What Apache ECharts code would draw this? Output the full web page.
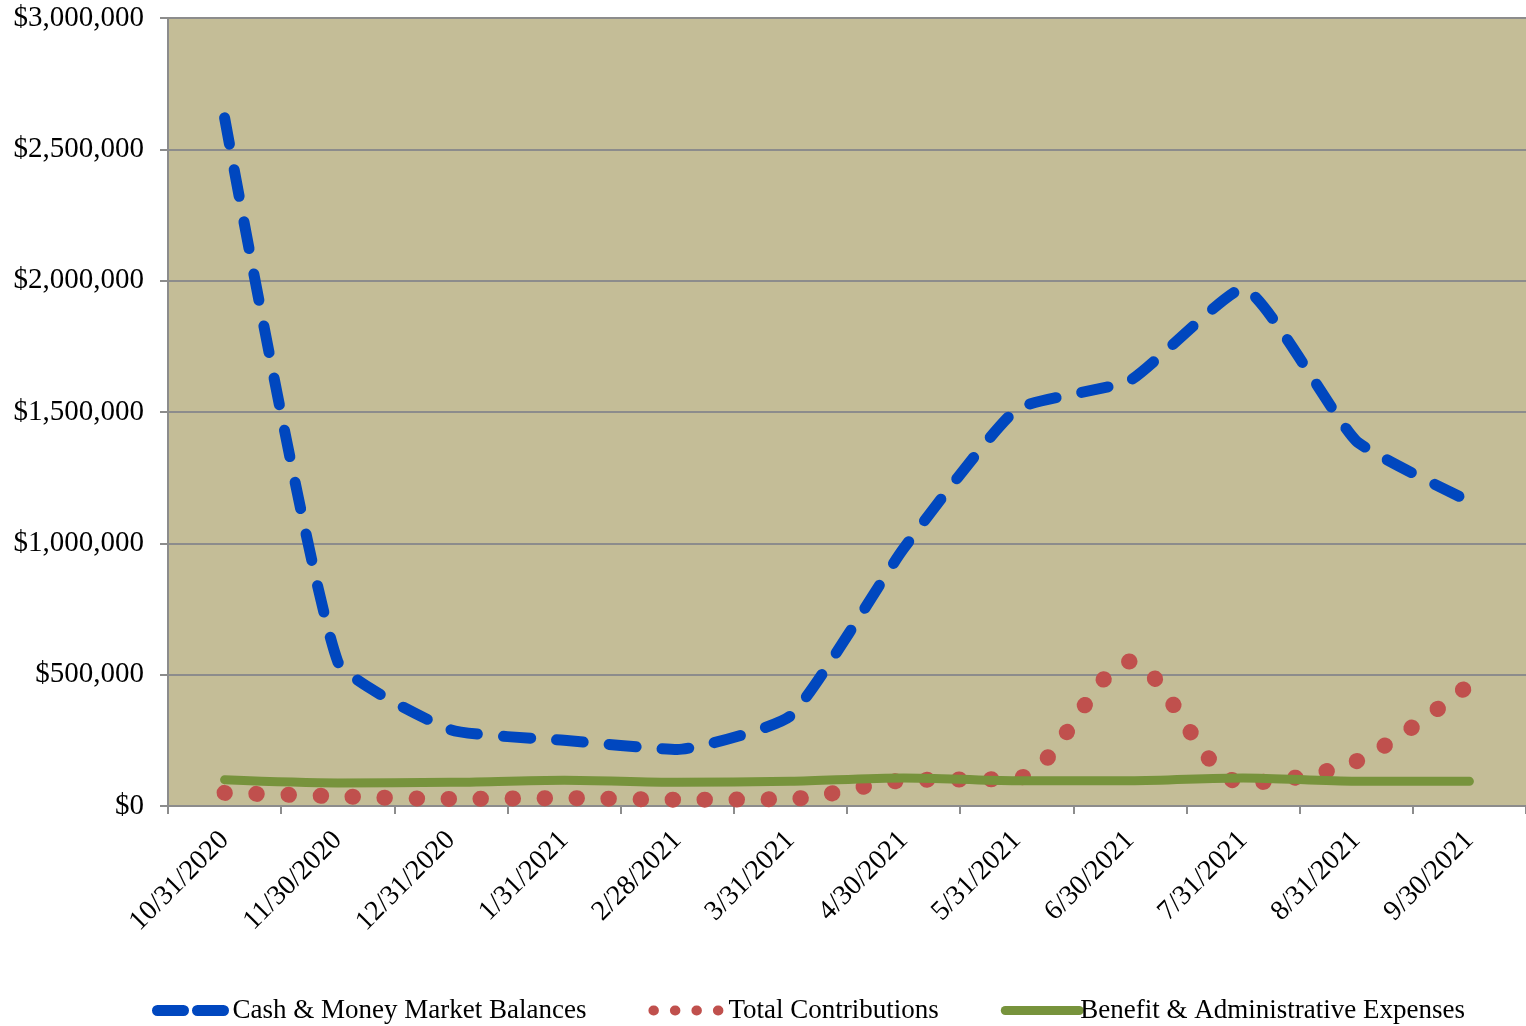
<!DOCTYPE html>
<html>
<head>
<meta charset="utf-8">
<script src="https://cdn.jsdelivr.net/npm/echarts@6/dist/echarts.min.js"></script>
<style>
html,body{margin:0;padding:0;background:#fff;}
#chart{width:1526px;height:1026px;}
</style>
</head>
<body>
<div id="chart"></div>
<script>
const categories = ['10/31/2020','11/30/2020','12/31/2020','1/31/2021','2/28/2021','3/31/2021','4/30/2021','5/31/2021','6/30/2021','7/31/2021','8/31/2021','9/30/2021'];
const cashBalances = [2620000, 550000, 290000, 250000, 215000, 343000, 980000, 1510000, 1620000, 1970000, 1390000, 1160000];
const totalContributions = [50000, 37000, 27000, 30000, 24000, 27000, 97000, 105000, 550000, 88000, 170000, 462000];
const benefitExpenses = [100000, 88000, 90000, 98000, 90000, 94000, 107000, 96000, 96000, 107000, 94000, 94000];
const yTicks = {min: 0, max: 3000000, interval: 500000};

const FONT = '"Liberation Serif", "Times New Roman", serif';
const chart = echarts.init(document.getElementById('chart'));

function money(v){
  return '$' + Math.round(v).toString().replace(/\B(?=(\d{3})+(?!\d))/g, ',');
}

const BLUE = '#0047BF', RED = '#C0504D', GREEN = '#77933C';

chart.setOption({
  animation: false,
  backgroundColor: '#ffffff',
  grid: {left: 168, right: -6, top: 18, bottom: 220, show: true, backgroundColor: '#C4BD97', borderWidth: 0},
  legend: {
    left: 152, top: 997, padding: 0,
    itemWidth: 74, itemHeight: 14, itemGap: 62,
    textStyle: {fontFamily: FONT, fontSize: 27, color: '#000', padding: [0, 0, 0, -4]},
    data: [
      {name: 'Cash & Money Market Balances', itemStyle: {opacity: 0},
       lineStyle: {color: BLUE, width: 11, type: [26, 14], cap: 'round'}},
      {name: 'Total Contributions', itemStyle: {opacity: 0},
       lineStyle: {color: RED, width: 10, type: [0.5, 21], cap: 'round'}},
      {name: 'Benefit & Administrative Expenses', itemStyle: {opacity: 0},
       lineStyle: {color: GREEN, width: 9, type: 'solid', cap: 'round'}}
    ]
  },
  xAxis: {
    type: 'category',
    data: categories,
    boundaryGap: true,
    axisLine: {lineStyle: {color: '#8C8C8C', width: 2}},
    axisTick: {show: true, length: 8, lineStyle: {color: '#8C8C8C', width: 2}},
    axisLabel: {rotate: 45, interval: 0, margin: 30, fontFamily: FONT, fontSize: 28, color: '#000'},
    splitLine: {show: false}
  },
  yAxis: {
    type: 'value',
    min: yTicks.min, max: yTicks.max, interval: yTicks.interval,
    axisLine: {show: true, lineStyle: {color: '#8C8C8C', width: 2}},
    axisTick: {show: true, length: 8, lineStyle: {color: '#8C8C8C', width: 2}},
    axisLabel: {margin: 24, fontFamily: FONT, fontSize: 29, color: '#000', formatter: money},
    splitLine: {show: true, lineStyle: {color: '#8C8C8C', width: 2}}
  },
  series: [
    {
      name: 'Cash & Money Market Balances', type: 'line', data: cashBalances,
      smooth: 0.15, symbol: 'none', z: 3,
      itemStyle: {color: BLUE},
      lineStyle: {color: BLUE, width: 11, type: [27, 26], cap: 'round', join: 'round'}
    },
    {
      name: 'Total Contributions', type: 'line', data: totalContributions,
      smooth: 0.3, symbol: 'none', z: 2,
      itemStyle: {color: RED},
      lineStyle: {color: RED, width: 16, type: [0.5, 31.5], cap: 'round', join: 'round'}
    },
    {
      name: 'Benefit & Administrative Expenses', type: 'line', data: benefitExpenses,
      smooth: 0.3, symbol: 'none', z: 2,
      itemStyle: {color: GREEN},
      lineStyle: {color: GREEN, width: 9, type: 'solid', cap: 'round', join: 'round'}
    }
  ]
});
</script>
</body>
</html>
